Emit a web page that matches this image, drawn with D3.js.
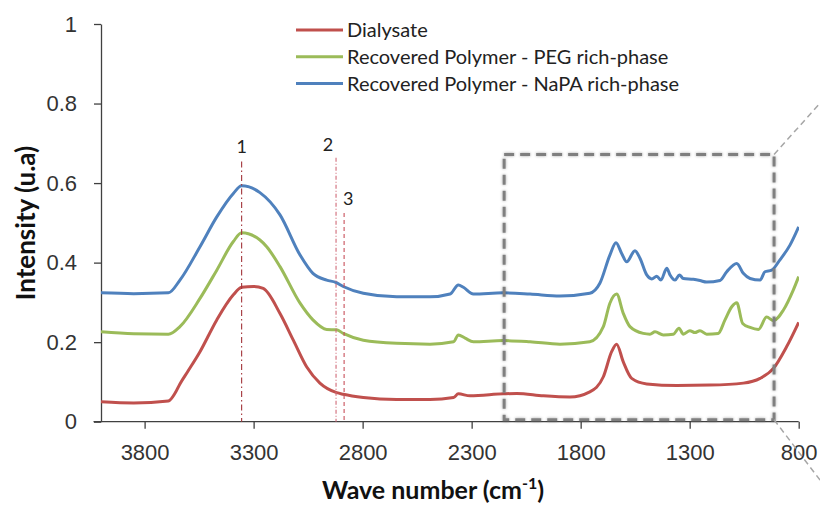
<!DOCTYPE html>
<html>
<head>
<meta charset="utf-8">
<script src="https://cdn.jsdelivr.net/npm/d3@7"></script>
<style>
    body { margin: 0; background: #fff; }
    svg { font-family: Lato, "Open Sans", sans-serif; }
</style>
</head>
<body>
<svg id="chart" width="820" height="505"></svg>
<script>
// wave numbers (cm-1) and intensities, left to right
var dialysateWn = [4000, 3850, 3691, 3660, 3638, 3600, 3546, 3469, 3393, 3355, 3300, 3256, 3179, 3118, 3057, 2996, 2919, 2889, 2797, 2644, 2491, 2383, 2361, 2307, 2155, 2093, 1971, 1849, 1758, 1696, 1658, 1635, 1605, 1566, 1497, 1359, 1207, 1054, 977, 916, 855, 800];
var dialysateI = [0.050, 0.047, 0.052, 0.072, 0.095, 0.128, 0.176, 0.256, 0.319, 0.338, 0.340, 0.335, 0.272, 0.205, 0.138, 0.097, 0.073, 0.069, 0.061, 0.056, 0.056, 0.061, 0.070, 0.065, 0.070, 0.071, 0.065, 0.062, 0.075, 0.113, 0.176, 0.195, 0.151, 0.109, 0.095, 0.091, 0.092, 0.097, 0.109, 0.134, 0.189, 0.250];

var pegWn = [4000, 3850, 3691, 3638, 3546, 3469, 3393, 3355, 3271, 3240, 3179, 3087, 3028, 2965, 2919, 2889, 2797, 2644, 2491, 2383, 2361, 2330, 2292, 2155, 2032, 1895, 1758, 1696, 1666, 1635, 1605, 1574, 1513, 1482, 1459, 1421, 1375, 1349, 1329, 1299, 1276, 1253, 1222, 1169, 1138, 1107, 1084, 1057, 1023, 985, 947, 916, 870, 825, 800];
var pegI = [0.226, 0.221, 0.220, 0.239, 0.310, 0.381, 0.453, 0.475, 0.457, 0.440, 0.390, 0.298, 0.256, 0.232, 0.231, 0.222, 0.205, 0.197, 0.195, 0.201, 0.218, 0.210, 0.201, 0.204, 0.201, 0.195, 0.201, 0.239, 0.298, 0.321, 0.273, 0.239, 0.222, 0.220, 0.226, 0.218, 0.220, 0.235, 0.220, 0.229, 0.224, 0.229, 0.220, 0.222, 0.256, 0.289, 0.299, 0.247, 0.237, 0.232, 0.263, 0.254, 0.281, 0.331, 0.365];

var napaWn = [4000, 3850, 3691, 3638, 3546, 3469, 3393, 3355, 3271, 3179, 3087, 3028, 2965, 2922, 2889, 2797, 2644, 2491, 2399, 2361, 2338, 2292, 2155, 2032, 1895, 1758, 1712, 1666, 1638, 1612, 1589, 1551, 1528, 1497, 1474, 1451, 1432, 1405, 1390, 1367, 1347, 1329, 1283, 1253, 1222, 1161, 1130, 1084, 1054, 1023, 977, 955, 924, 886, 840, 800];
var napaI = [0.324, 0.322, 0.324, 0.356, 0.440, 0.515, 0.574, 0.593, 0.576, 0.520, 0.419, 0.373, 0.356, 0.350, 0.340, 0.323, 0.314, 0.314, 0.321, 0.344, 0.338, 0.321, 0.324, 0.321, 0.316, 0.323, 0.348, 0.419, 0.450, 0.423, 0.402, 0.430, 0.411, 0.369, 0.359, 0.366, 0.356, 0.386, 0.369, 0.356, 0.369, 0.360, 0.358, 0.355, 0.351, 0.355, 0.377, 0.398, 0.373, 0.360, 0.356, 0.377, 0.381, 0.407, 0.444, 0.490];

var seriesNames = ["Dialysate", "Recovered Polymer - PEG rich-phase", "Recovered Polymer - NaPA rich-phase"];
var seriesColors = ["#C0504D", "#9BBB59", "#4F81BD"];

var xTicks = [3800, 3300, 2800, 2300, 1800, 1300, 800];
var yTicks = [0, 0.2, 0.4, 0.6, 0.8, 1];

// band markers 1, 2, 3 (wave number, top of the line)
var markerLabels = ["1", "2", "3"];
var markerWn = [3355, 2922, 2885];
var markerTop = [0.654, 0.664, 0.525];

// zoom box round the fingerprint region
var boxWn = [2151, 913];
var boxI = [0.005, 0.672];

var svg = d3.select("#chart");

var x = d3.scaleLinear()
    .domain([4000, 800])
    .range([101, 798.7]);

var y = d3.scaleLinear()
    .domain([0, 1])
    .range([421.7, 24]);

/**
 * AXES
 */
var yAxis = svg.append("g")
    .attr("transform", "translate(101,0)")
    .call(d3.axisLeft(y).tickValues(yTicks).tickFormat(d3.format("")).tickSize(7).tickSizeOuter(0).tickPadding(17));

var xAxis = svg.append("g")
    .attr("transform", "translate(0,421.7)")
    .call(d3.axisBottom(x).tickValues(xTicks).tickFormat(d3.format("d")).tickSize(7).tickSizeOuter(0).tickPadding(16));

[xAxis, yAxis].forEach(axis => {
    axis.selectAll("path, line").attr("stroke", "#404040").attr("stroke-width", 1.3);
    axis.selectAll("text").attr("fill", "#333").style("font-size", "22px");
});
// the x axis line reaches the end of the y ticks
xAxis.select(".domain").attr("d", "M93.5,0H798.7");

svg.append("text")
    .attr("transform", "translate(35,223) rotate(-90)")
    .attr("text-anchor", "middle")
    .style("font-size", "26px")
    .style("font-weight", "bold")
    .attr("fill", "#111")
    .text("Intensity (u.a)");

var xTitle = svg.append("text")
    .attr("x", 433)
    .attr("y", 499)
    .attr("text-anchor", "middle")
    .style("font-size", "25px")
    .style("font-weight", "bold")
    .attr("fill", "#111");
xTitle.append("tspan").text("Wave number (cm");
xTitle.append("tspan").attr("dy", -10).style("font-size", "16px").text("-1");
xTitle.append("tspan").attr("dy", 10).text(")");

/**
 * SPECTRA
 */
svg.append("clipPath").attr("id", "plotClip")
    .append("rect").attr("x", 101).attr("y", 0).attr("width", 698).attr("height", 422);

var series = [
    dialysateWn.map((w, i) => [w, dialysateI[i]]),
    pegWn.map((w, i) => [w, pegI[i]]),
    napaWn.map((w, i) => [w, napaI[i]])
];

var line = d3.line()
    .x(d => x(d[0]))
    .y(d => y(d[1]))
    .curve(d3.curveMonotoneX);

svg.append("g")
    .attr("clip-path", "url(#plotClip)")
    .selectAll("path")
    .data(series)
    .enter()
    .append("path")
    .attr("d", line)
    .attr("fill", "none")
    .attr("stroke", (d, i) => seriesColors[i])
    .attr("stroke-width", 3)
    .attr("stroke-linejoin", "round");

/**
 * BAND MARKERS
 */
var markerColors = ["#A3343A", "#D06A78", "#C8505A"];
var markerDash = ["6,3,1.5,3", "4,2,1,2", "4,3"];
var markerDx = [0, -8, 4];
var markerDy = [-9, -7, -8];

svg.append("g")
    .selectAll("line")
    .data(markerWn)
    .enter()
    .append("line")
    .attr("x1", d => x(d))
    .attr("x2", d => x(d))
    .attr("y1", (d, i) => y(markerTop[i]))
    .attr("y2", y(0))
    .attr("stroke", (d, i) => markerColors[i])
    .attr("stroke-width", 1.1)
    .attr("stroke-dasharray", (d, i) => markerDash[i]);

svg.append("g")
    .selectAll("text")
    .data(markerWn)
    .enter()
    .append("text")
    .attr("x", (d, i) => x(d) + markerDx[i])
    .attr("y", (d, i) => y(markerTop[i]) + markerDy[i])
    .attr("text-anchor", "middle")
    .style("font-size", "18px")
    .attr("fill", "#222")
    .text((d, i) => markerLabels[i]);

/**
 * ZOOM BOX
 */
var defs = svg.append("defs");
var shadow = defs.append("filter").attr("id", "soft").attr("x", "-10%").attr("y", "-10%").attr("width", "120%").attr("height", "120%");
shadow.append("feDropShadow").attr("dx", 0).attr("dy", 0).attr("stdDeviation", 1.5)
    .attr("flood-color", "#000").attr("flood-opacity", 0.35);

svg.append("rect")
    .attr("x", x(boxWn[0]))
    .attr("y", y(boxI[1]))
    .attr("width", x(boxWn[1]) - x(boxWn[0]))
    .attr("height", y(boxI[0]) - y(boxI[1]))
    .attr("fill", "none")
    .attr("stroke", "#7f7f7f")
    .attr("stroke-width", 3)
    .attr("stroke-dasharray", "10,6")
    .attr("filter", "url(#soft)");

// leader lines running off to the right
var leaderEnds = [[702, 0.801], [702, -0.147]];
svg.append("g")
    .selectAll("line")
    .data(leaderEnds)
    .enter()
    .append("line")
    .attr("x1", x(boxWn[1]))
    .attr("y1", (d, i) => y(i === 0 ? boxI[1] : boxI[0]))
    .attr("x2", d => x(d[0]))
    .attr("y2", d => y(d[1]))
    .attr("stroke", "#a6a6a6")
    .attr("stroke-width", 1.5)
    .attr("stroke-dasharray", "6,4");

/**
 * LEGEND
 */
var legend = svg.append("g")
    .selectAll("g")
    .data(seriesNames)
    .enter()
    .append("g")
    .attr("transform", (d, i) => "translate(296," + (30 + i * 26.8) + ")");

legend.append("line")
    .attr("x1", 0)
    .attr("x2", 47)
    .attr("stroke", (d, i) => seriesColors[i])
    .attr("stroke-width", 3);

legend.append("text")
    .attr("x", 51)
    .attr("y", 7)
    .style("font-size", "20px")
    .attr("fill", "#222")
    .text(d => d);
</script>
</body>
</html>
